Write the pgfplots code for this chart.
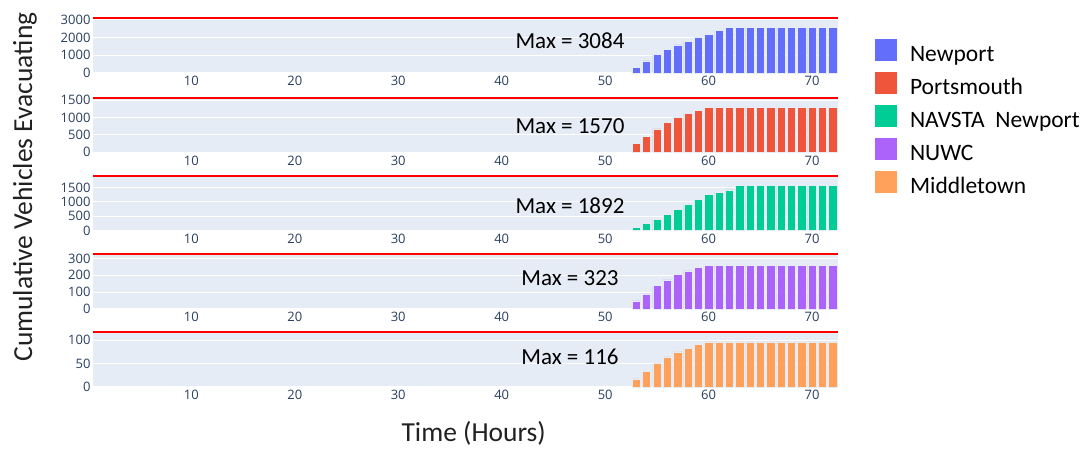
\documentclass[border=0pt]{standalone}
\usepackage{pgfplots}
\pgfplotsset{compat=1.18}
\usepackage{fontspec}
\setmainfont{Carlito}
\newfontfamily\tickfont{Open Sans}
\definecolor{bgcol}{HTML}{E5ECF6}
\definecolor{tickcol}{HTML}{2A3F5F}
\definecolor{cA}{HTML}{636EFA}
\definecolor{cB}{HTML}{EF553B}
\definecolor{cC}{HTML}{00CC96}
\definecolor{cD}{HTML}{AB63FA}
\definecolor{cE}{HTML}{FFA15A}
\pgfplotsset{
  panel/.style={
    scale only axis, width=745pt, height=54.5pt,
    anchor=south west,
    xmin=0.5, xmax=72.5, ymin=0,
    xtick={10,20,30,40,50,60,70},
    axis line style={draw=none},
    axis background/.style={fill=bgcol},
    major tick length=0pt,
    ymajorgrids, grid style={white, line width=1pt},
    /pgf/number format/assume math mode=true,
    /pgf/number format/1000 sep={},
    scaled y ticks=false,
    tick label style={font=\tickfont\fontsize{13}{13}\selectfont, text=tickcol},
    yticklabel style={xshift=1pt},
    ybar, bar width=0.8,
    clip=false,
  },
  bars/.style={fill=#1, draw=bgcol, line width=0.5pt},
  maxline/.style={red, line width=2pt, sharp plot, forget plot, no markers},
}
\begin{document}
\begin{tikzpicture}
\path[use as bounding box] (0,0) rectangle (1089pt,449pt);
% Panel 1: Newport
\begin{axis}[panel, at={(93pt,376pt)}, ymax=3084, ytick={0,1000,2000,3000},
  legend style={at={(axis description cs:1.0497,0.63)}, anchor=north west, draw=none, fill=none,
    inner sep=0pt, outer sep=0pt, row sep=4pt, column sep=13pt,
    font=\fontsize{23.5}{24}\selectfont,
    nodes={inner sep=0pt, text height=16pt, text depth=6pt}},
  legend cell align=left,
  legend image code/.code={\fill[draw=none] (0pt,-4pt) rectangle (22pt,18pt);}]
\addplot[bars=cA] coordinates {(53,305) (54,690) (55,1052) (56,1340) (57,1590) (58,1800) (59,2011) (60,2200) (61,2396) (62,2570) (63,2570) (64,2570) (65,2570) (66,2570) (67,2570) (68,2570) (69,2570) (70,2570) (71,2570) (72,2570)};
\addlegendentry{Newport}
\addlegendimage{fill=cB, draw=none}\addlegendentry{Portsmouth}
\addlegendimage{fill=cC, draw=none}\addlegendentry{NAVSTA\ \ Newport}
\addlegendimage{fill=cD, draw=none}\addlegendentry{NUWC}
\addlegendimage{fill=cE, draw=none}\addlegendentry{Middletown}
\addplot[maxline] coordinates {(0.5,3084) (72.5,3084)};
\node[anchor=base, font=\fontsize{23}{24}\selectfont] at (axis cs:46.6,0) [yshift=24pt] {Max = 3084};
\end{axis}
% Panel 2: Portsmouth
\begin{axis}[panel, at={(93pt,296.7pt)}, ymax=1570, ytick={0,500,1000,1500}]
\addplot[bars=cB] coordinates {(53,254) (54,452) (55,678) (56,856) (57,1006) (58,1119) (59,1215) (60,1288) (61,1288) (62,1288) (63,1288) (64,1288) (65,1288) (66,1288) (67,1288) (68,1288) (69,1288) (70,1288) (71,1288) (72,1288)};
\addplot[maxline] coordinates {(0.5,1570) (72.5,1570)};
\node[anchor=base, font=\fontsize{23}{24}\selectfont] at (axis cs:46.6,0) [yshift=19pt] {Max = 1570};
\end{axis}
% Panel 3: NAVSTA Newport
\begin{axis}[panel, at={(93pt,218.3pt)}, ymax=1892, ytick={0,500,1000,1500}]
\addplot[bars=cC] coordinates {(53,112) (54,262) (55,384) (56,554) (57,738) (58,918) (59,1078) (60,1248) (61,1326) (62,1418) (63,1565) (64,1565) (65,1565) (66,1565) (67,1565) (68,1565) (69,1565) (70,1565) (71,1565) (72,1565)};
\addplot[maxline] coordinates {(0.5,1892) (72.5,1892)};
\node[anchor=base, font=\fontsize{23}{24}\selectfont] at (axis cs:46.6,0) [yshift=17pt] {Max = 1892};
\end{axis}
% Panel 4: NUWC
\begin{axis}[panel, at={(93pt,140pt)}, ymax=323, ytick={0,100,200,300}]
\addplot[bars=cD] coordinates {(53,48) (54,90) (55,138) (56,172) (57,203) (58,226) (59,247) (60,259) (61,259) (62,259) (63,259) (64,259) (65,259) (66,259) (67,259) (68,259) (69,259) (70,259) (71,259) (72,259)};
\addplot[maxline] coordinates {(0.5,323) (72.5,323)};
\node[anchor=base, font=\fontsize{23}{24}\selectfont] at (axis cs:46.6,0) [yshift=23pt] {Max = 323};
\end{axis}
% Panel 5: Middletown
\begin{axis}[panel, at={(93pt,62pt)}, ymax=116, ytick={0,50,100}]
\addplot[bars=cE] coordinates {(53,17.5) (54,33) (55,50) (56,64) (57,75) (58,83) (59,90) (60,96) (61,96) (62,96) (63,96) (64,96) (65,96) (66,96) (67,96) (68,96) (69,96) (70,96) (71,96) (72,96)};
\addplot[maxline] coordinates {(0.5,116) (72.5,116)};
\node[anchor=base, font=\fontsize{23}{24}\selectfont] at (axis cs:46.6,0) [yshift=22pt] {Max = 116};
\end{axis}
\node[rotate=90, font=\fontsize{27.5}{28}\selectfont, text=black!87] at (25pt,262pt) {Cumulative Vehicles Evacuating};
\node[anchor=base, font=\fontsize{27.5}{28}\selectfont, text=black!87] at (473.7pt,7.3pt) {Time (Hours)};
\end{tikzpicture}
\end{document}
